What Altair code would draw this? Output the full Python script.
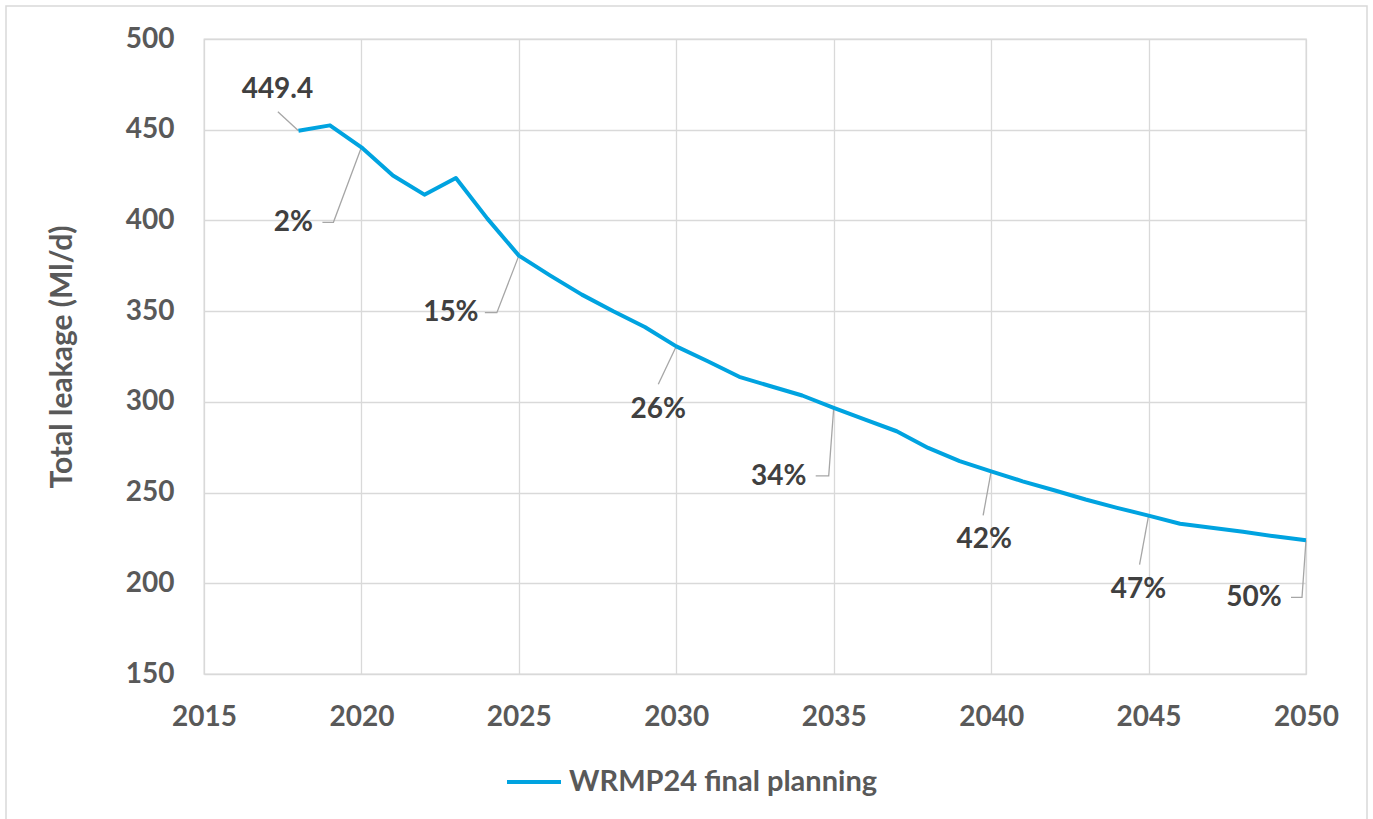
import altair as alt
import pandas as pd

# Total leakage forecast, Ml/d
years = list(range(2018, 2051))
leakage = [449.4, 452.4, 440.3, 424.8, 414.2, 423.4, 401.0, 380.6, 369.6, 359.1,
           349.9, 341.3, 330.6, 322.4, 313.8, 308.6, 303.5, 296.7, 290.2, 283.8,
           274.6, 267.3, 261.7, 256.2, 251.3, 246.2, 241.6, 237.3, 232.8, 230.6,
           228.4, 225.9, 223.7]
series_name = "WRMP24 final planning"

# Years that carry a data label (first one shows the baseline value,
# the rest show the reduction against it)
label_years = [2018, 2020, 2025, 2030, 2035, 2040, 2045, 2050]

# Label placement, in pixels relative to the labelled point
label_dx = [-21, -68, -68, -18, -55, -7, -10, -52]
label_dy = [-41, 76, 57, 64, 69, 69, 74, 58]
leader_paths = [
    [(0, 0), (-20.6, -19)],
    [(0, 0), (-28, 75), (-39, 75)],
    [(0, 0), (-22, 57), (-34, 57)],
    [(0, 0), (-18, 38)],
    [(0, 0), (-5, 68), (-18, 68)],
    [(0, 0), (-8, 44)],
    [(0, 0), (-9, 49)],
    [(0, 0), (-4, 57), (-15, 57)],
]

PLOT_W, PLOT_H = 1102, 635
X0, X1 = 2015, 2050
Y0, Y1 = 150, 500
px_per_year = PLOT_W / (X1 - X0)
px_per_unit = PLOT_H / (Y1 - Y0)

FONT = "Lato"
TICK_COLOR = "#595959"
LABEL_COLOR = "#404040"
GRID_COLOR = "#d9d9d9"
LINE_COLOR = "#00a3e0"
FS = 28
TITLE_FS = 30

series = pd.DataFrame({"year": years, "leakage": leakage, "series": series_name})

value_of = dict(zip(years, leakage))
base = leakage[0]
texts, leaders = [], []
for i, yr in enumerate(label_years):
    v = value_of[yr]
    txt = f"{v}" if i == 0 else f"{round((1 - v / base) * 100)}%"
    texts.append({
        "year": yr + label_dx[i] / px_per_year,
        "value": v - label_dy[i] / px_per_unit,
        "text": txt,
    })
    for k, (dx, dy) in enumerate(leader_paths[i]):
        leaders.append({
            "key": yr,
            "step": k,
            "year": yr + dx / px_per_year,
            "value": v - dy / px_per_unit,
        })
texts = pd.DataFrame(texts)
leaders = pd.DataFrame(leaders)

x_scale = alt.Scale(domain=[X0, X1], nice=False, zero=False)
y_scale = alt.Scale(domain=[Y0, Y1], nice=False, zero=False)

x_axis = alt.Axis(values=list(range(X0, X1 + 1, 5)), format="d", title=None,
                  labelFlush=False, labelPadding=29)
y_axis = alt.Axis(values=list(range(Y0, Y1 + 1, 50)), title="Total leakage (Ml/d)",
                  labelPadding=30, titleX=-142, titleY=PLOT_H / 2,
                  titleBaseline="middle", titleAngle=-90)

# outer frame around the whole figure
frame = alt.Chart(pd.DataFrame({"k": [0]})).mark_rect(
    fillOpacity=0, stroke=GRID_COLOR, strokeWidth=1.5
).encode(
    x=alt.value(-198), x2=alt.value(1163), y=alt.value(-33), y2=alt.value(820)
)

line = alt.Chart(series).mark_line(strokeWidth=4, strokeJoin="round").encode(
    x=alt.X("year:Q", scale=x_scale, axis=x_axis),
    y=alt.Y("leakage:Q", scale=y_scale, axis=y_axis),
    color=alt.Color(
        "series:N",
        scale=alt.Scale(range=[LINE_COLOR]),
        legend=alt.Legend(
            title=None, orient="none", legendX=301, legendY=714,
            symbolType="stroke", symbolSize=2916, symbolStrokeWidth=4,
            labelOffset=6, labelLimit=0, labelFont=FONT, labelFontSize=29,
            labelFontWeight="bold", labelColor=TICK_COLOR,
        ),
    ),
)

leader_lines = alt.Chart(leaders).mark_line(
    color="#a6a6a6", strokeWidth=1.3
).encode(
    x=alt.X("year:Q", scale=x_scale),
    y=alt.Y("value:Q", scale=y_scale),
    detail="key:N",
    order="step:Q",
)

labels = alt.Chart(texts).mark_text(
    font=FONT, fontSize=FS, fontWeight="bold", color=LABEL_COLOR,
    align="center", baseline="middle"
).encode(
    x=alt.X("year:Q", scale=x_scale),
    y=alt.Y("value:Q", scale=y_scale),
    text="text:N",
)

chart = alt.layer(frame, leader_lines, line, labels).properties(
    width=PLOT_W, height=PLOT_H,
    autosize=alt.AutoSizeParams(type="none"),
    padding={"left": 204, "top": 39, "right": 67, "bottom": 145},
    background="white",
).configure_view(
    stroke=GRID_COLOR, strokeWidth=1.3
).configure_axis(
    domain=False, ticks=False, grid=True, gridColor=GRID_COLOR, gridWidth=1.3,
    labelFont=FONT, labelFontSize=FS, labelFontWeight="bold", labelColor=TICK_COLOR,
    titleFont=FONT, titleFontSize=TITLE_FS, titleFontWeight="bold", titleColor=TICK_COLOR,
)

chart.save("out.html", embed_options={"renderer": "svg", "actions": False})
